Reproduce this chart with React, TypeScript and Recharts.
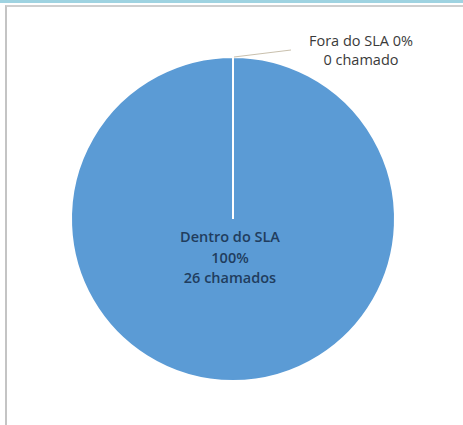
import React from 'react';
import { PieChart, Pie, Cell } from 'recharts';

const categories = ['Dentro do SLA', 'Fora do SLA'];
const chamados = [26, 0];
const percentLabels = ['100%', '0%'];
const colors = ['#5b9bd5', '#ed7d31'];

const data = categories.map((name, i) => ({ name, value: chamados[i], pct: percentLabels[i] }));

const FONT = '"Open Sans", "Liberation Sans", sans-serif';

const renderLabel = (props: any) => {
  const { cx, cy, outerRadius, index } = props;
  if (index === 0) {
    return (
      <g fill="#213d5e" fontSize={14.5} fontWeight={600} fontFamily={FONT}>
        <text x={cx - 3} y={cy + 17} textAnchor="middle" dominantBaseline="central">
          {data[0].name}
        </text>
        <text x={cx - 3} y={cy + 38} textAnchor="middle" dominantBaseline="central">
          {data[0].pct}
        </text>
        <text x={cx - 3} y={cy + 58} textAnchor="middle" dominantBaseline="central">
          {data[0].value} chamados
        </text>
      </g>
    );
  }
  const topY = cy - outerRadius;
  return (
    <g>
      <line x1={cx + 1} y1={topY} x2={cx + 58} y2={topY - 7} stroke="#c9c0ad" strokeWidth={1} />
      <text x={cx + 128} y={topY - 17} textAnchor="middle" dominantBaseline="central" fill="#3a3a3a" fontSize={14.5} fontFamily={FONT}>
        {data[1].name} {data[1].pct}
      </text>
      <text x={cx + 128} y={topY + 2} textAnchor="middle" dominantBaseline="central" fill="#3a3a3a" fontSize={14.5} fontFamily={FONT}>
        {data[1].value} chamado
      </text>
    </g>
  );
};

export default function App() {
  return (
    <div style={{ position: 'absolute', left: 0, top: 0, width: 463, height: 425, background: '#fff', overflow: 'hidden' }}>
      <div style={{ position: 'absolute', left: 0, top: 0, width: 463, height: 3, background: '#9fd3e1' }} />
      <div
        style={{
          position: 'absolute',
          left: 5,
          top: 5,
          width: 470,
          height: 430,
          borderTop: '2px solid #cfcfcf',
          borderLeft: '2px solid #c4c4c4',
        }}
      />
      <div style={{ position: 'absolute', left: 0, top: 0 }}>
        <PieChart width={463} height={425}>
          <Pie
            data={data}
            dataKey="value"
            nameKey="name"
            cx={228}
            cy={214}
            outerRadius={162}
            startAngle={90}
            endAngle={-270}
            stroke="#ffffff"
            strokeWidth={2}
            label={renderLabel}
            labelLine={false}
            isAnimationActive={false}
          >
            {data.map((d, i) => (
              <Cell key={d.name} fill={colors[i]} />
            ))}
          </Pie>
        </PieChart>
      </div>
    </div>
  );
}
